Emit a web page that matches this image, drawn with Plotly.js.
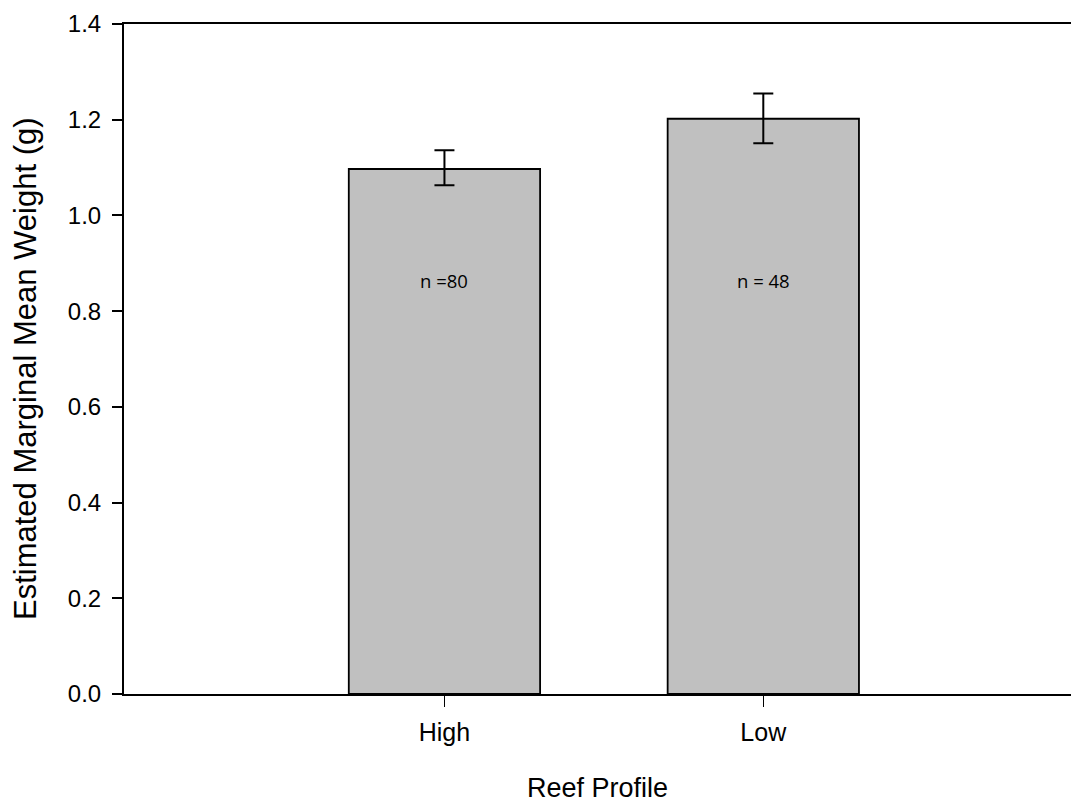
<!DOCTYPE html>
<html>
<head>
<meta charset="utf-8">
<script src="https://cdn.plot.ly/plotly-3.0.1.min.js"></script>
<style>
  html, body { margin: 0; padding: 0; background: #fff; }
  #chart { width: 1071px; height: 803px; }
</style>
</head>
<body>
<div id="chart"></div>
<script>
// Reef profile categories and estimated marginal mean weights (g)
const profiles = ["High", "Low"];
const meanWeight = [1.097, 1.202];
const errUpper = [0.039, 0.053];
const errLower = [0.034, 0.051];
const sampleLabels = ["n =80", "n = 48"];
const labelY = [0.863, 0.863];
const yTitle = "Estimated Marginal Mean Weight (g)";

const bars = {
  type: "bar",
  x: profiles,
  y: meanWeight,
  width: 0.6,
  marker: { color: "#c0c0c0", line: { color: "#000", width: 1.8 } },
  error_y: {
    type: "data",
    symmetric: false,
    array: errUpper,
    arrayminus: errLower,
    color: "#000",
    thickness: 2,
    width: 10
  },
  hoverinfo: "skip"
};

// sample-size labels inside the bars
const annotations = profiles.map((p, i) => ({
  x: p, y: labelY[i], xref: "x", yref: "y",
  text: sampleLabels[i], showarrow: false,
  font: { family: "Open Sans, Noto Sans, sans-serif", size: 18.5, color: "#000" }
}));

// vertical y-axis title
annotations.push({
  xref: "paper", yref: "paper", x: 0, y: 0.5,
  xanchor: "center", yanchor: "middle", xshift: -99, yshift: -10,
  textangle: -90, showarrow: false, text: yTitle,
  font: { family: "Liberation Sans, Arial, sans-serif", size: 31, color: "#000" }
});

const layout = {
  width: 1071, height: 803,
  margin: { l: 124, r: 0, t: 23.5, b: 108.5 },
  paper_bgcolor: "#fff", plot_bgcolor: "#fff",
  showlegend: false,
  font: { family: "Liberation Sans, Arial, sans-serif", color: "#000" },
  xaxis: {
    type: "category",
    range: [-1.005, 1.965],
    showline: true, linecolor: "#000", linewidth: 2,
    mirror: true,
    ticks: "outside", ticklen: 11, tickwidth: 1.5, tickcolor: "#000",
    ticklabelstandoff: 4,
    showgrid: false, zeroline: false,
    tickfont: { size: 25, color: "#000" },
    title: { text: "Reef Profile", font: { size: 27, color: "#000" }, standoff: 33 }
  },
  yaxis: {
    range: [0, 1.4],
    tickvals: [0, 0.2, 0.4, 0.6, 0.8, 1.0, 1.2, 1.4],
    ticktext: ["0.0", "0.2", "0.4", "0.6", "0.8", "1.0", "1.2", "1.4"],
    showline: true, linecolor: "#000", linewidth: 2,
    ticks: "outside", ticklen: 10, tickwidth: 2, tickcolor: "#000",
    ticklabelstandoff: 6,
    showgrid: false, zeroline: false,
    tickfont: { size: 24, color: "#000" }
  },
  annotations: annotations
};

Plotly.newPlot("chart", [bars], layout, { displayModeBar: false, staticPlot: true });
</script>
</body>
</html>
